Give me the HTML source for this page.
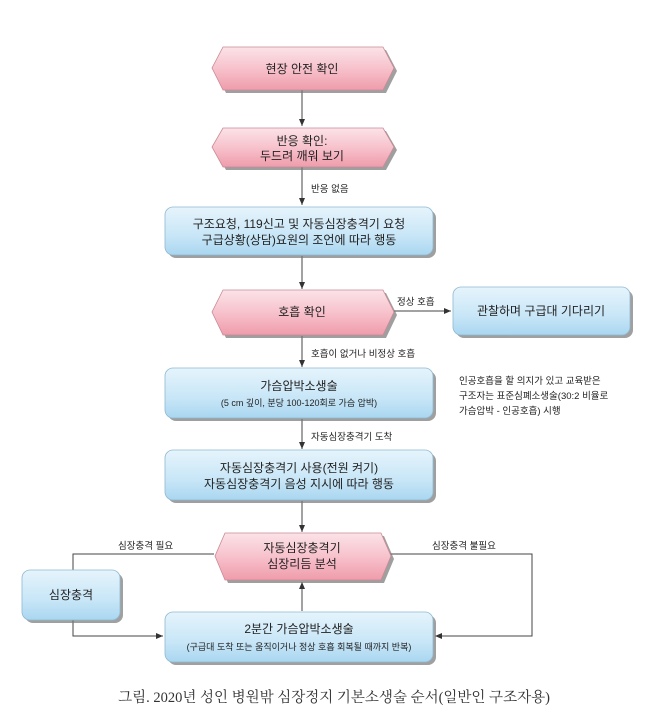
<!DOCTYPE html>
<html><head><meta charset="utf-8"><style>
html,body{margin:0;padding:0;background:#fff;}
svg{display:block;font-family:"Liberation Sans","Noto Sans CJK KR",sans-serif;}
</style></head><body>
<svg width="648" height="723" viewBox="0 0 648 723">
<defs>
<linearGradient id="pk" x1="0" y1="0" x2="0" y2="1">
<stop offset="0" stop-color="#fbe3e8"/><stop offset="0.5" stop-color="#f7c2cc"/><stop offset="1" stop-color="#ef9cab"/></linearGradient>
<linearGradient id="bl" x1="0" y1="0" x2="0" y2="1">
<stop offset="0" stop-color="#e6f4fc"/><stop offset="0.6" stop-color="#c8e6f7"/><stop offset="1" stop-color="#a9d6f0"/></linearGradient>
<marker id="ar" markerWidth="8" markerHeight="8" refX="7" refY="4" orient="auto" markerUnits="userSpaceOnUse"><path d="M0,1 L7,4 L0,7 Z" fill="#333"/></marker>
</defs>
<g stroke="#444" stroke-width="1" fill="none">
<line x1="302" y1="90" x2="302" y2="126" marker-end="url(#ar)"/>
<line x1="302" y1="167" x2="302" y2="205" marker-end="url(#ar)"/>
<line x1="302" y1="256" x2="302" y2="289" marker-end="url(#ar)"/>
<line x1="393" y1="311" x2="451" y2="311" marker-end="url(#ar)"/>
<line x1="302" y1="336" x2="302" y2="367" marker-end="url(#ar)"/>
<line x1="302" y1="419" x2="302" y2="449" marker-end="url(#ar)"/>
<line x1="302" y1="501" x2="302" y2="532" marker-end="url(#ar)"/>
<line x1="302" y1="611" x2="302" y2="582" marker-end="url(#ar)"/>
<polyline points="214,554 73,554 73,570"/>
<polyline points="73,620 73,636 163,636" marker-end="url(#ar)"/>
<polyline points="390,554 532,554 532,636 435,636" marker-end="url(#ar)"/>
</g>
<g>
<g fill="#777" opacity="0.7">
<polygon points="226,50 386,50 397,71 386,93 226,93 215,71"/>
<polygon points="226,131 386,131 397,150 386,170 226,170 215,150"/>
<polygon points="226,293 386,293 397,315 386,338 226,338 215,315"/>
<polygon points="228,536 384,536 394,559 384,583 228,583 218,559"/>
<rect x="168" y="210" width="268" height="48" rx="8"/>
<rect x="456" y="290" width="177" height="48" rx="8"/>
<rect x="168" y="371" width="268" height="50" rx="8"/>
<rect x="168" y="453" width="268" height="50" rx="8"/>
<rect x="25" y="573" width="98" height="50" rx="8"/>
<rect x="168" y="615" width="268" height="50" rx="8"/>
</g>
<g stroke="#c98a96" stroke-width="0.8" fill="url(#pk)">
<polygon points="223,47 383,47 394,68 383,90 223,90 212,68"/>
<polygon points="223,128 383,128 394,147 383,167 223,167 212,147"/>
<polygon points="223,290 383,290 394,312 383,335 223,335 212,312"/>
<polygon points="225,533 381,533 391,556 381,580 225,580 215,556"/>
</g>
<g stroke="#8fb9d1" stroke-width="0.8" fill="url(#bl)">
<rect x="165" y="207" width="268" height="48" rx="8"/>
<rect x="453" y="287" width="177" height="48" rx="8"/>
<rect x="165" y="368" width="268" height="50" rx="8"/>
<rect x="165" y="450" width="268" height="50" rx="8"/>
<rect x="22" y="570" width="98" height="50" rx="8"/>
<rect x="165" y="612" width="268" height="50" rx="8"/>
</g>
</g>
<g fill="#222" font-size="12" text-anchor="middle">
<text x="302" y="73">현장 안전 확인</text>
<text x="302" y="145">반응 확인:</text>
<text x="302" y="160">두드려 깨워 보기</text>
<text x="299" y="228">구조요청, 119신고 및 자동심장충격기 요청</text>
<text x="299" y="244">구급상황(상담)요원의 조언에 따라 행동</text>
<text x="302" y="316">호흡 확인</text>
<text x="541" y="315">관찰하며 구급대 기다리기</text>
<text x="299" y="390">가슴압박소생술</text>
<text x="299" y="472">자동심장충격기 사용(전원 켜기)</text>
<text x="299" y="488">자동심장충격기 음성 지시에 따라 행동</text>
<text x="302" y="552">자동심장충격기</text>
<text x="302" y="568">심장리듬 분석</text>
<text x="71" y="599">심장충격</text>
<text x="299" y="633">2분간 가슴압박소생술</text>
</g>
<g fill="#222" font-size="9" text-anchor="middle">
<text x="299" y="406">(5 cm 깊이, 분당 100-120회로 가슴 압박)</text>
<text x="299" y="650">(구급대 도착 또는 움직이거나 정상 호흡 회복될 때까지 반복)</text>
</g>
<g fill="#222" font-size="9.5">
<text x="311" y="192">반응 없음</text>
<text x="397" y="305">정상 호흡</text>
<text x="311" y="357">호흡이 없거나 비정상 호흡</text>
<text x="311" y="440">자동심장충격기 도착</text>
<text x="118" y="549">심장충격 필요</text>
<text x="432" y="549">심장충격 불필요</text>
<text x="459" y="384">인공호흡을 할 의지가 있고 교육받은</text>
<text x="459" y="399">구조자는 표준심폐소생술(30:2 비율로</text>
<text x="459" y="414">가슴압박 - 인공호흡) 시행</text>
</g>
<text x="334" y="702" text-anchor="middle" font-size="14.5" fill="#333" font-family="Liberation Serif,'Noto Serif CJK SC',serif">그림. 2020년 성인 병원밖 심장정지 기본소생술 순서(일반인 구조자용)</text>
</svg>
</body></html>
